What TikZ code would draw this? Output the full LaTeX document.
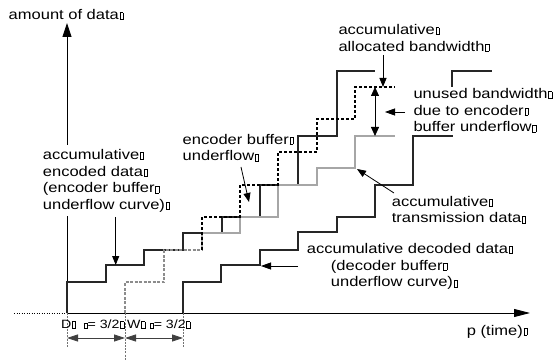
\documentclass[tikz,border=0pt]{standalone}
\usepackage{fontspec}
\setmainfont{Liberation Sans}[FakeStretch=1.18]
\usetikzlibrary{arrows.meta}

% hollow box printed where a glyph is missing
\newcommand\nochar{\kern0.8pt{\fboxsep=0pt\fboxrule=0.45pt\fbox{\rule{0pt}{6.5pt}\rule{2.8pt}{0pt}}}}
\newcommand\nocharsm{{\fboxsep=0pt\fboxrule=0.45pt\fbox{\rule{0pt}{4.5pt}\rule{2.8pt}{0pt}}}}

\begin{document}
\begin{tikzpicture}[x=1pt,y=-1pt,
  lbl/.style={anchor=north west, inner sep=0pt, align=left,
              font=\fontsize{14}{16.7}\selectfont},
  baselbl/.style={anchor=base west, inner sep=0pt,
              font=\fontsize{14}{16.7}\selectfont},
  dimlbl/.style={anchor=base west, inner sep=0pt,
              font=\fontsize{12}{14}\selectfont},
  cover/.style={fill=white},
  yaxis/.style={line width=0.9pt, -{Triangle[length=14pt,width=9pt]}},
  xaxis/.style={line width=0.9pt, -{Triangle[length=16pt,width=8pt]}},
  ptr/.style={line width=0.8pt, -{Triangle[length=9pt,width=7pt]}},
  hptr/.style={line width=0.8pt, -{Triangle[length=10pt,width=7pt]}},
  dblptr/.style={line width=0.8pt, {Triangle[length=9pt,width=8pt]}-{Triangle[length=9pt,width=8pt]}},
  dimarrow/.style={line width=0.8pt, black!75, {Triangle[length=11pt,width=7pt]}-{Triangle[length=11pt,width=7pt]}},
  extline/.style={line width=0.5pt, black!55, dash pattern=on 2pt off 1.2pt},
  curve/.style={line width=1.1pt, line join=miter},
  encoded/.style={curve, black!85},
  decoded/.style={curve, black!85},
  transmit/.style={curve, black!35},
  shared/.style={curve, black!45, dash pattern=on 3pt off 1.5pt},
  allocated/.style={curve, black, dash pattern=on 3pt off 2pt}]

\useasboundingbox (0,0) rectangle (558,361);

% axes
\coordinate (O) at (67,313);
\coordinate (Ytop) at (67,23);
\coordinate (Xend) at (530,313);
\coordinate (Xleft) at (14,313);
\draw[line width=0.5pt, dotted] (Xleft) -- (O);
\draw[xaxis] (O) -- (Xend);
\draw[yaxis] (O) -- (Ytop);

% dimension extension lines
\coordinate (E0) at (67,347);
\coordinate (T0) at (125,313);
\coordinate (E1) at (125,361);
\coordinate (D0) at (183,313);
\coordinate (E2) at (183,347);
\draw[extline] (O) -- (E0);
\draw[extline] (T0) -- (E1);
\draw[extline] (D0) -- (E2);

% accumulative encoded data
\draw[encoded] (O) -- (67,282) -- (106,282) -- (106,265) -- (144,265) -- (144,250)
  -- (183,250) -- (183,233) -- (222,233) -- (222,217) -- (260,217) -- (260,185)
  -- (298,185) -- (298,136) -- (337,136) -- (337,71) -- (375,71);

% common part of allocated bandwidth and transmission
\draw[shared] (T0) -- (125,282) -- (164,282) -- (164,250) -- (202,250);

% accumulative transmission data
\draw[transmit] (202,250) -- (202,233) -- (240,233) -- (240,217) -- (278,217)
  -- (278,185) -- (317,185) -- (317,168) -- (355,168) -- (355,136) -- (395,136);

% accumulative allocated bandwidth
\draw[allocated] (202,250) -- (202,217) -- (240,217) -- (240,185) -- (278,185)
  -- (278,152) -- (317,152) -- (317,119) -- (355,119) -- (355,87) -- (395,87);

% accumulative decoded data
\draw[decoded] (D0) -- (183,282) -- (221,282) -- (221,265) -- (260,265) -- (260,250)
  -- (298,250) -- (298,232) -- (337,232) -- (337,217) -- (375,217) -- (375,185)
  -- (413,185) -- (413,136) -- (452,136) -- (452,71) -- (492,71);

% labels
\node[baselbl] (ylab) at (8.5,19.3) {amount of data\nochar};
\node[lbl, cover, inner xsep=2pt, inner ysep=4pt] (enclab) at (40.7,145)
  {accumulative\nochar\\encoded data\nochar\\(encoder buffer\nochar\\underflow curve)\nochar};
\node[lbl] (uflab) at (182.5,133.8) {encoder buffer\nochar\\underflow\nochar};
\node[lbl] (alloclab) at (338.3,24.1) {accumulative\nochar\\allocated bandwidth\nochar};
\node[lbl, cover, inner sep=1pt] (unusedlab) at (412.3,87.1)
  {unused bandwidth\nochar\\due to encoder\nochar\\buffer underflow\nochar\rule[-2pt]{0pt}{2pt}};
\node[lbl] (translab) at (391.7,195.8) {accumulative\nochar\\transmission data\nochar};
\node[lbl] (declab) at (306.7,243.1)
  {accumulative decoded data\nochar\\\hspace*{24pt}(decoder buffer\nochar\\\hspace*{24pt}underflow curve)\nochar};
\node[baselbl] (xlab) at (466.7,335) {p (time)\nochar};
\node[dimlbl] (dlab) at (61,328.3) {D\nochar\hspace{8pt}\nocharsm{}= 3/2\nochar};
\node[dimlbl] (wlab) at (127,328.3) {W\nochar\hspace{5pt}\nocharsm{}= 3/2\nochar};

% pointers from labels
\coordinate (encA) at (115.7,217);
\coordinate (encB) at (115.7,265);
\draw[ptr] (encA) -- (encB);
\coordinate (ufA) at (241,167);
\coordinate (ufB) at (249,202);
\draw[ptr] (ufA) -- (ufB);
\coordinate (alA) at (383,55);
\coordinate (alB) at (383,87);
\draw[ptr] (alA) -- (alB);
\coordinate (unA) at (375,87);
\coordinate (unB) at (375,136);
\draw[dblptr] (unA) -- (unB);
\coordinate (unC) at (405,112);
\coordinate (unD) at (385,112);
\draw[hptr] (unC) -- (unD);
\coordinate (trA) at (394,193);
\coordinate (trB) at (357,169);
\draw[ptr] (trA) -- (trB);
\coordinate (deA) at (298,266);
\coordinate (deB) at (261,266);
\draw[hptr] (deA) -- (deB);

% delays
\coordinate (dimL) at (67,338);
\coordinate (dimM) at (125,338);
\coordinate (dimR) at (183,338);
\draw[dimarrow] (dimL) -- (dimM);
\draw[dimarrow] (dimM) -- (dimR);

\end{tikzpicture}
\end{document}
